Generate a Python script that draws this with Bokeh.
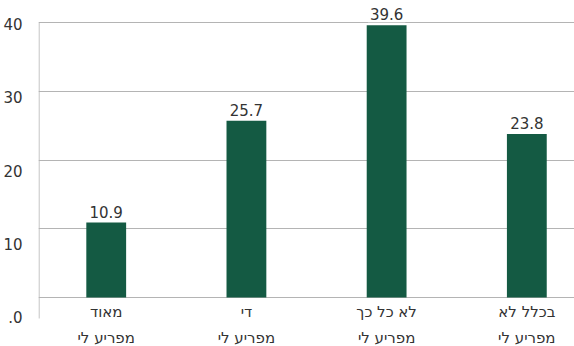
from bokeh.plotting import figure
from bokeh.models import Range1d, LinearAxis, FixedTicker, ColumnDataSource
from bokeh.core.properties import value
from bokeh.embed import file_html
from bokeh.resources import INLINE

# Survey answers, left to right
line1 = ["מאוד", "די", "לא כל כך", "בכלל לא"]
line2 = ["מפריע לי", "מפריע לי", "מפריע לי", "מפריע לי"]
shares = [10.9, 25.7, 39.6, 23.8]
y_ticks = [0, 10, 20, 30, 40]
y_tick_text = {0: ".0", 10: "10", 20: "20", 30: "30", 40: "40"}

FONT = "DejaVu Sans"
BAR = "#145a43"
GRID = "#b4b4b4"
TXT = "#333333"

idx = list(range(len(shares)))
src = ColumnDataSource(dict(
    x=idx,
    top=shares,
    lbl=[f"{v:.1f}" for v in shares],
    l1=line1,
    l2=line2,
))

p = figure(width=574, height=346, output_backend="svg", toolbar_location=None,
           x_range=Range1d(-0.483, 3.34), y_range=Range1d(-7.127, 43.2),
           x_axis_location=None, min_border=0, min_border_left=36)
p.outline_line_color = None
p.xgrid.visible = False
p.yaxis.visible = False
p.ygrid.ticker = FixedTicker(ticks=y_ticks)
p.ygrid.grid_line_color = GRID
p.ygrid.grid_line_width = 1

# value axis labels sit on their own scale, a little lower than the grid
p.extra_y_ranges = {"lbl": Range1d(-3.946, 43.13)}
ax = LinearAxis(y_range_name="lbl", ticker=FixedTicker(ticks=y_ticks),
                major_label_overrides=y_tick_text)
ax.axis_line_color = None
ax.major_tick_line_color = None
ax.minor_tick_line_color = None
ax.major_label_standoff = 10
ax.major_label_text_font = FONT
ax.major_label_text_font_size = "15px"
ax.major_label_text_color = TXT
p.add_layout(ax, "left")

# vertical axis line
p.segment(x0=[-0.479], y0=[-3.05], x1=[-0.479], y1=[max(y_ticks)],
          line_color=GRID, line_width=1)

p.vbar(x="x", top="top", bottom=0, width=0.284, source=src,
       fill_color=BAR, line_color=None)

p.text(x="x", y="top", text="lbl", source=src, y_offset=-3,
       text_align="center", text_baseline="bottom",
       text_font=value(FONT), text_font_size="15px", text_color=TXT,
       background_fill_color="white", padding=2)

p.text(x="x", y=0, text="l1", source=src, y_offset=14,
       text_align="center", text_baseline="middle",
       text_font=value(FONT), text_font_size="15px", text_color=TXT)
p.text(x="x", y=0, text="l2", source=src, y_offset=40,
       text_align="center", text_baseline="middle",
       text_font=value(FONT), text_font_size="15px", text_color=TXT)

open("out.html", "w").write(file_html(p, INLINE))
